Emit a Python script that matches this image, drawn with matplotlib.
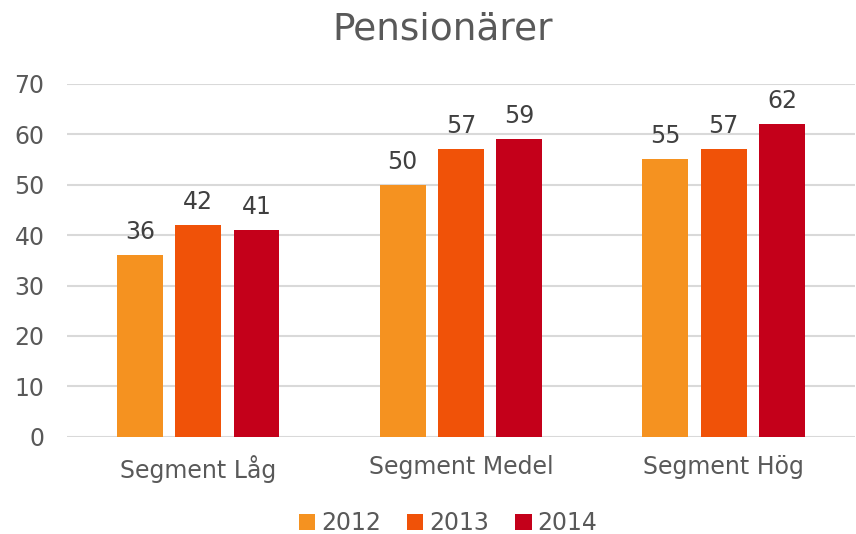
import numpy as np
import matplotlib.pyplot as plt

# --- datos ---
categories = ["Segment Låg", "Segment Medel", "Segment Hög"]
years = ["2012", "2013", "2014"]
v2012 = [36, 50, 55]
v2013 = [42, 57, 57]
v2014 = [41, 59, 62]
colors = ["#F59220", "#F05208", "#C4001A"]

plt.rcParams['font.family'] = ['DejaVu Sans']

fig = plt.figure(figsize=(8.56, 5.34), dpi=100)
ax = fig.add_axes([0.078, 0.182, 0.921, 0.661])

x = np.arange(len(categories))
width = 0.175
step = 0.222
series = [v2012, v2013, v2014]
for i, (vals, col, yr) in enumerate(zip(series, colors, years)):
    bars = ax.bar(x + (i - 1) * step, vals, width, color=col, label=yr, zorder=3)
    ax.bar_label(bars, padding=8, fontsize=17, color="#404040")

ax.set_xlim(-0.5, 2.5)
ax.set_ylim(0, 70)
ax.set_yticks(range(0, 71, 10))
ax.set_xticks(x)
ax.set_xticklabels(categories)
ax.tick_params(axis='both', length=0, labelsize=17, labelcolor="#595959")
ax.tick_params(axis='x', pad=13)
ax.tick_params(axis='y', pad=16)
ax.grid(axis='y', color="#D9D9D9", linewidth=1.5, zorder=0)
for s in ["top", "right", "left", "bottom"]:
    ax.spines[s].set_visible(False)

fig.text(443 / 856, 1 - 30 / 534, "Pensionärer", fontsize=27, color="#595959",
         ha="center", va="center")

fig.legend(loc="lower center", bbox_to_anchor=(448 / 856, -0.042), ncol=3, frameon=False,
           fontsize=17, labelcolor="#595959", handlelength=0.7, handleheight=0.7,
           handletextpad=0.25, columnspacing=1.1)

plt.savefig("out.png", dpi=100)
